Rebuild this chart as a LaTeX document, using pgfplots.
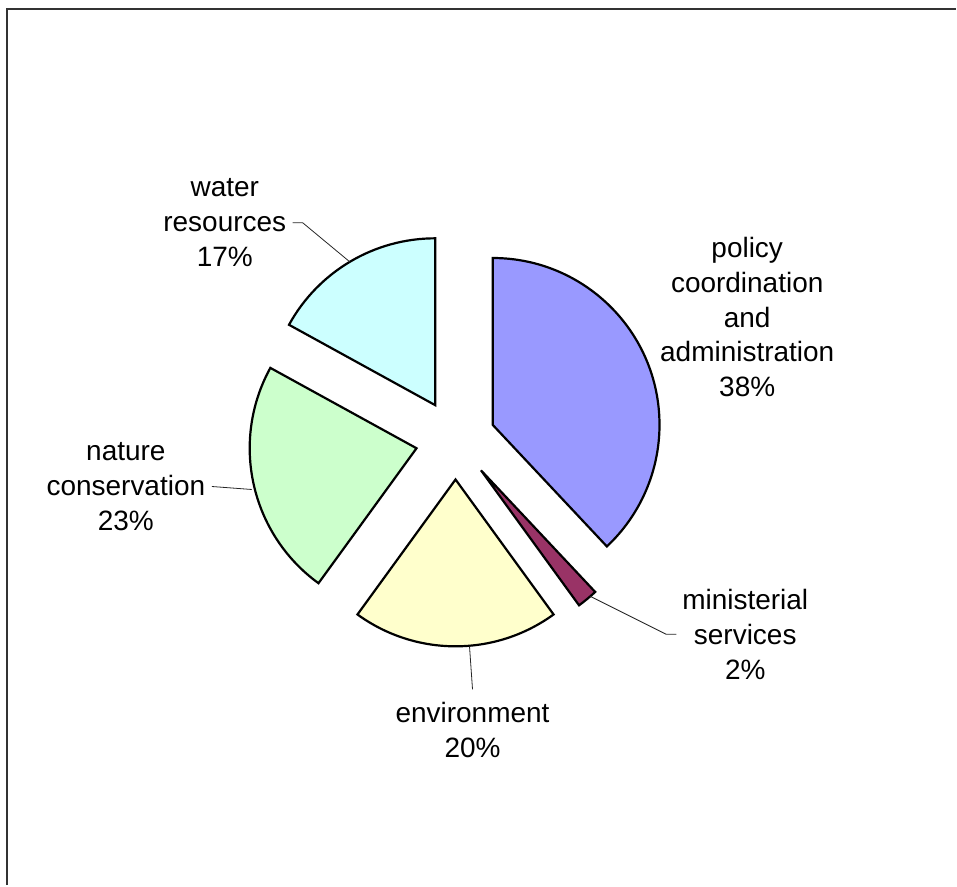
\documentclass[border=0pt]{standalone}
\usepackage{pgfplots}
\pgfplotsset{compat=1.18}
\usepackage{pgfplotstable}
\usepackage{fontspec}
\setmainfont{Liberation Sans}

\definecolor{cPolicy}{RGB}{153,153,255}
\definecolor{cMinist}{RGB}{153,51,102}
\definecolor{cEnviron}{RGB}{255,255,204}
\definecolor{cNature}{RGB}{204,255,204}
\definecolor{cWater}{RGB}{204,255,255}

% budget shares in percent, clockwise from twelve o'clock
\pgfplotstableread{
share
38
2
20
23
17
}\shares

% pie centre, radius and explosion offset (axis units)
\def\cx{456}
\def\cy{446}
\def\rad{167}
\def\off{40}

% cumulative slice angles
\pgfmathsetmacro\aA{90}
\pgfplotstablegetelem{0}{share}\of\shares \pgfmathsetmacro\aB{\aA-3.6*\pgfplotsretval}
\pgfplotstablegetelem{1}{share}\of\shares \pgfmathsetmacro\aC{\aB-3.6*\pgfplotsretval}
\pgfplotstablegetelem{2}{share}\of\shares \pgfmathsetmacro\aD{\aC-3.6*\pgfplotsretval}
\pgfplotstablegetelem{3}{share}\of\shares \pgfmathsetmacro\aE{\aD-3.6*\pgfplotsretval}
\pgfplotstablegetelem{4}{share}\of\shares \pgfmathsetmacro\aF{\aE-3.6*\pgfplotsretval}

% apex of each exploded slice
\pgfmathsetmacro\pAx{\cx+\off*cos((\aA+\aB)/2)}\pgfmathsetmacro\pAy{\cy+\off*sin((\aA+\aB)/2)}
\pgfmathsetmacro\pBx{\cx+\off*cos((\aB+\aC)/2)}\pgfmathsetmacro\pBy{\cy+\off*sin((\aB+\aC)/2)}
\pgfmathsetmacro\pCx{\cx+\off*cos((\aC+\aD)/2)}\pgfmathsetmacro\pCy{\cy+\off*sin((\aC+\aD)/2)}
\pgfmathsetmacro\pDx{\cx+\off*cos((\aD+\aE)/2)}\pgfmathsetmacro\pDy{\cy+\off*sin((\aD+\aE)/2)}
\pgfmathsetmacro\pEx{\cx+\off*cos((\aE+\aF)/2)}\pgfmathsetmacro\pEy{\cy+\off*sin((\aE+\aF)/2)}

\newcommand\slice[5]{% apex x, apex y, start, end, colour
  \filldraw[fill=#5, draw=black, line width=2.2pt, line join=miter]
    (axis cs:#1,#2) -- (axis cs:{#1+\rad*cos(#3)},{#2+\rad*sin(#3)})
    arc[start angle=#3, end angle=#4, radius=\rad pt] -- cycle;}

\begin{document}
\begin{tikzpicture}[
  lbl/.style={font=\fontsize{28}{34.8}\selectfont, align=center, inner sep=0pt},
  lead/.style={draw=black!85, line width=0.8pt},
]
\begin{axis}[
  x=1pt, y=1pt,
  xmin=0, xmax=957, ymin=0, ymax=886,
  hide axis, clip=false,
]
\path (axis cs:0,0) rectangle (axis cs:957,886);
% partial chart-area frame
\draw[line width=2pt, black!80] (axis cs:7,0) -- (axis cs:7,877) -- (axis cs:957,877);

\slice{\pAx}{\pAy}{\aA}{\aB}{cPolicy}
\slice{\pBx}{\pBy}{\aB}{\aC}{cMinist}
\slice{\pCx}{\pCy}{\aC}{\aD}{cEnviron}
\slice{\pDx}{\pDy}{\aD}{\aE}{cNature}
\slice{\pEx}{\pEy}{\aE}{\aF}{cWater}

% leader lines
\draw[lead] (axis cs:293,663) -- (axis cs:303,663) -- (axis cs:350,624);
\draw[lead] (axis cs:212,399) -- (axis cs:252,396);
\draw[lead] (axis cs:591,289) -- (axis cs:667,251) -- (axis cs:677,251);
\draw[lead] (axis cs:470,239) -- (axis cs:473,196);

% data labels
\node[lbl] at (axis cs:225,663) {water\\resources\\17\%};
\node[lbl] at (axis cs:748,568.5) {policy\\coordination\\and\\administration\\38\%};
\node[lbl] at (axis cs:126,399) {nature\\conservation\\23\%};
\node[lbl] at (axis cs:746,251) {ministerial\\services\\2\%};
\node[lbl] at (axis cs:473,155.5) {environment\\20\%};
\end{axis}
\end{tikzpicture}
\end{document}
